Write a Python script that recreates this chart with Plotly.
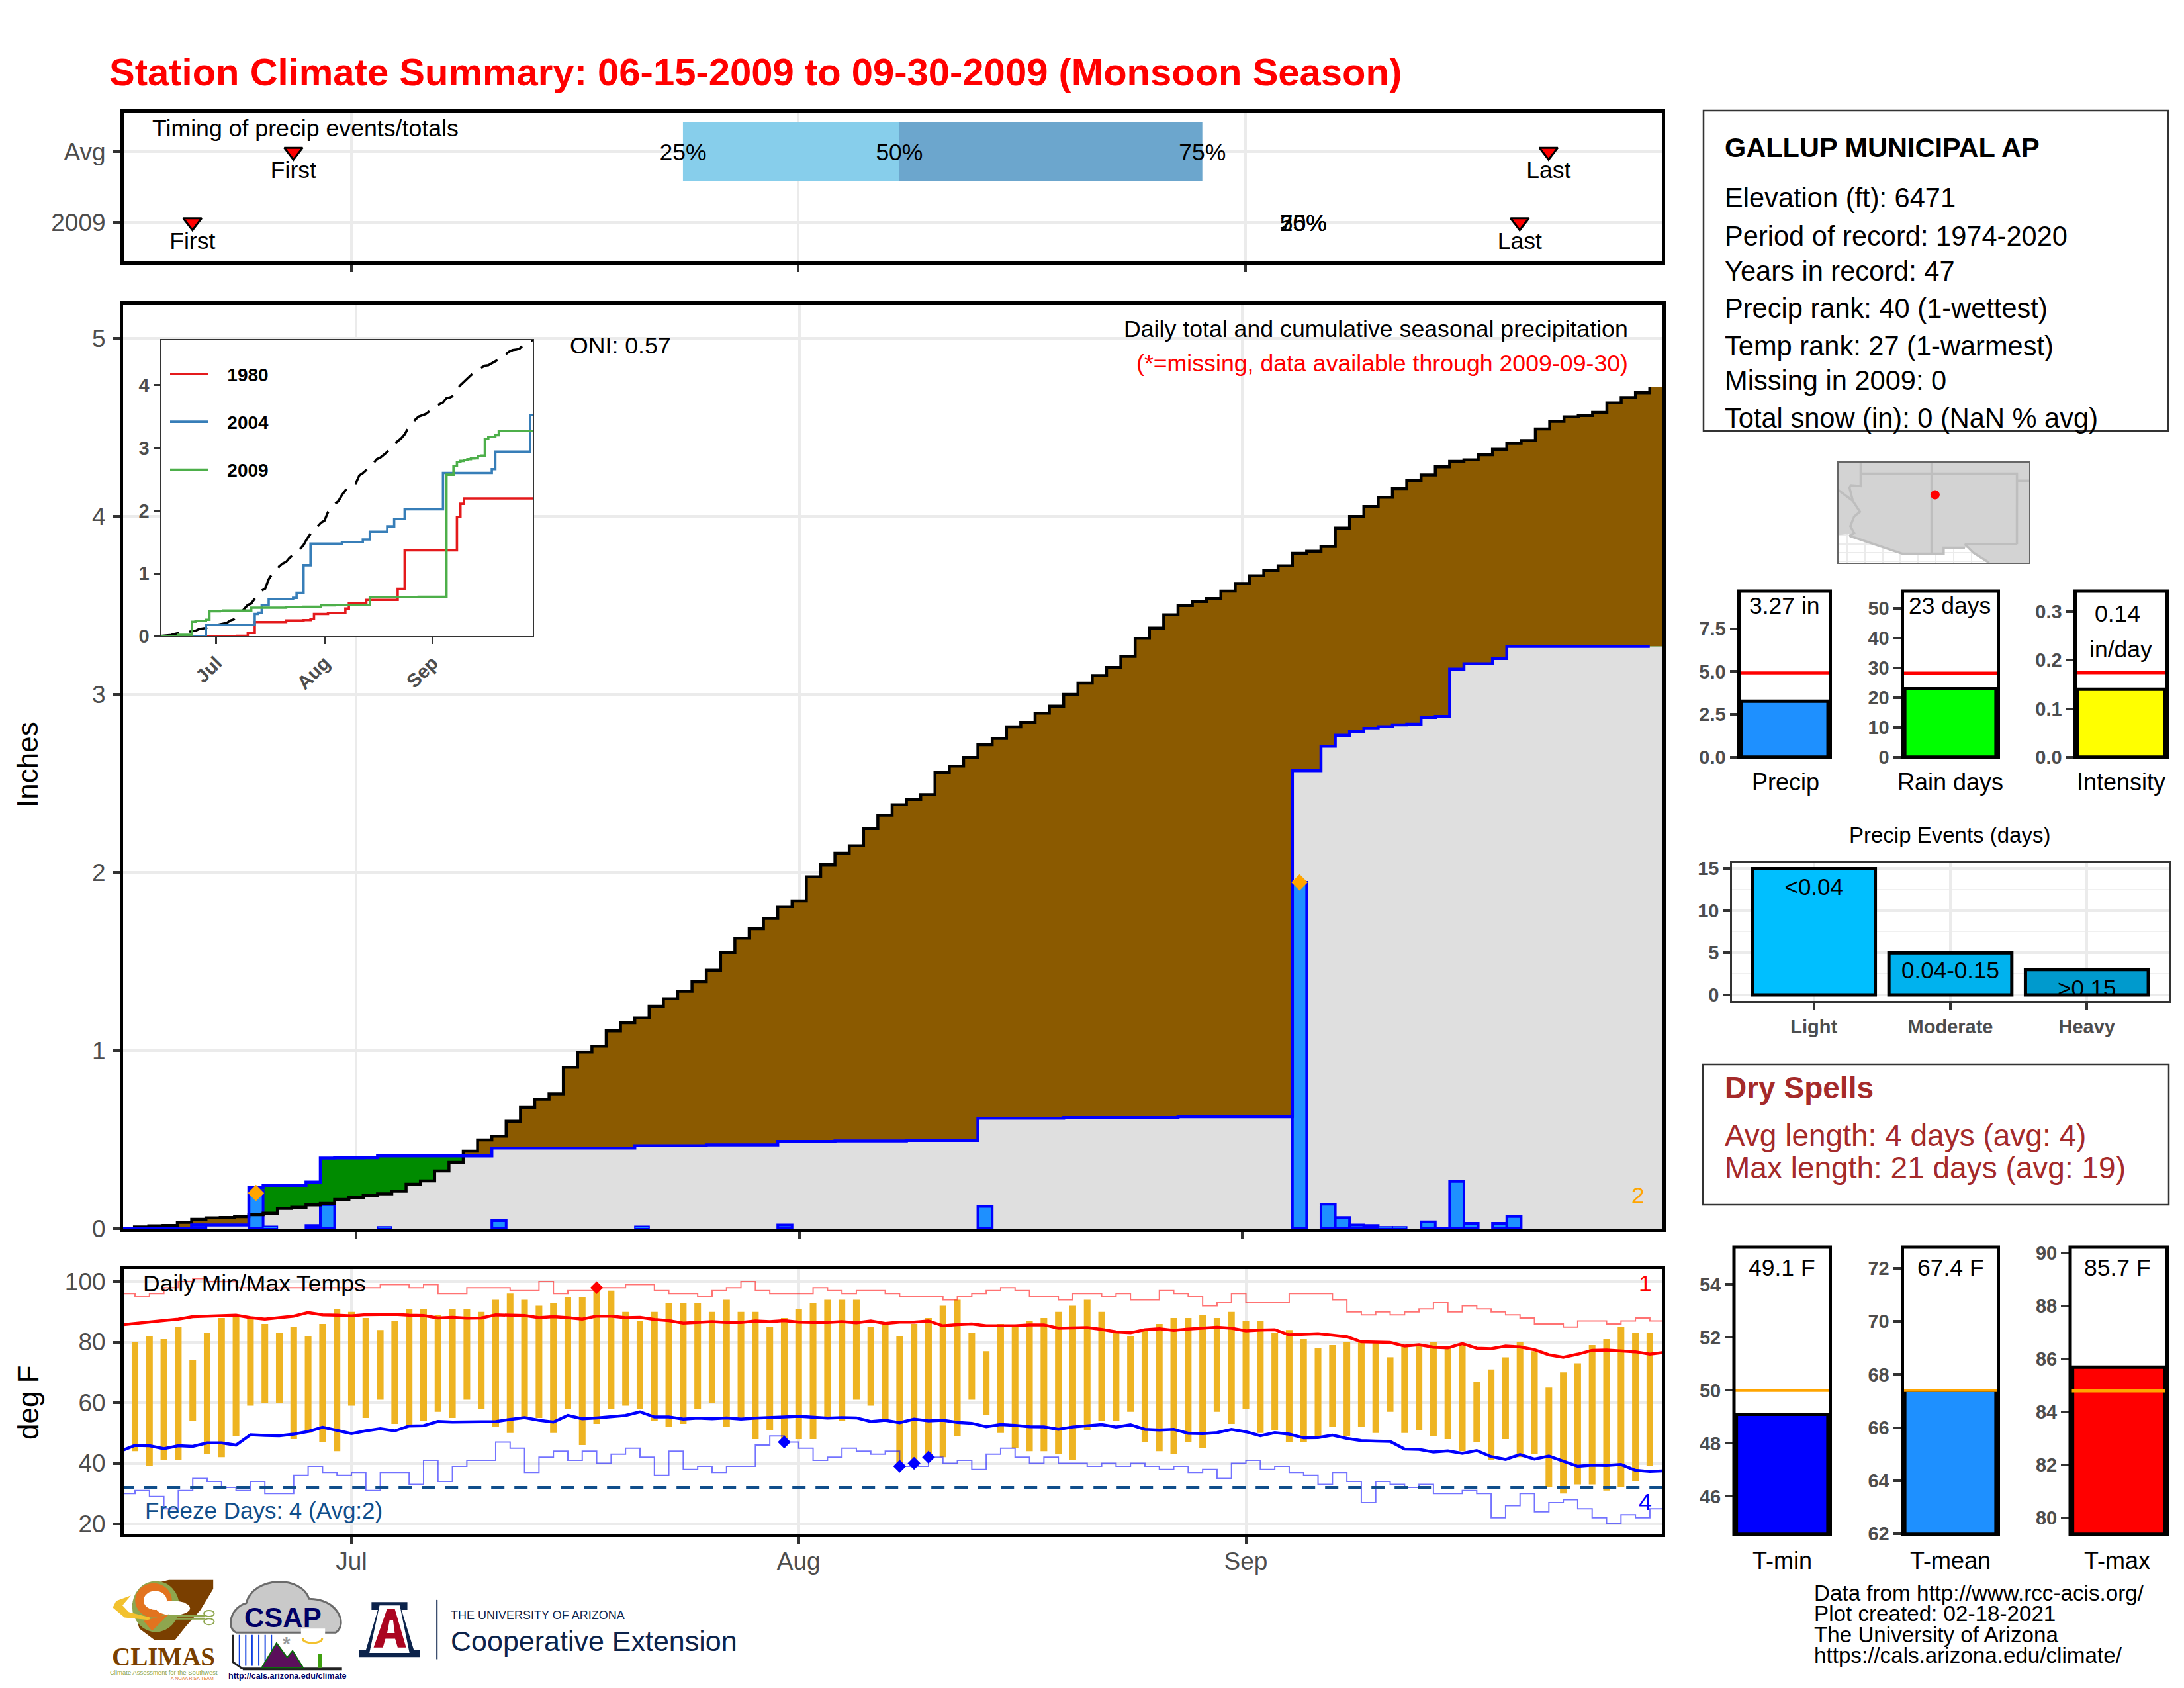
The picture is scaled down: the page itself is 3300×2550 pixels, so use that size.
import numpy as np
import plotly.graph_objects as go

# ---------- data ----------
days = list(range(108))
month_ticks = [16, 47, 78]
month_labels = ["Jul", "Aug", "Sep"]

avg_cum = [0.003,0.009,0.016,0.018,0.035,0.052,0.06,0.062,0.067,0.078,0.086,0.113,0.12,0.133,0.141,0.164,0.175,0.186,0.195,0.21,
           0.249,0.268,0.323,0.372,0.435,0.498,0.52,0.603,0.68,0.727,0.757,0.906,0.992,1.025,1.111,1.156,1.183,1.249,1.291,1.333,
           1.387,1.451,1.551,1.631,1.684,1.742,1.808,1.84,1.975,2.044,2.108,2.15,2.246,2.322,2.38,2.41,2.437,2.562,2.598,2.646,
           2.718,2.753,2.818,2.843,2.895,2.934,3.0,3.063,3.106,3.152,3.214,3.315,3.373,3.447,3.499,3.522,3.538,3.58,3.623,3.667,
           3.696,3.722,3.792,3.804,3.831,3.934,3.999,4.055,4.107,4.156,4.202,4.233,4.278,4.309,4.317,4.346,4.377,4.411,4.426,4.491,
           4.534,4.559,4.566,4.584,4.637,4.668,4.695,4.727]
precip_days = [5,9,10,13,14,15,17,18,26,36,41,46,50,55,60,66,74,82,84,85,86,87,88,89,90,91,92,93,94,96,97]
precip_vals = [.02,.21,.013,.018,.135,.001,.001,.01,.045,.013,.004,.02,.003,.002,.125,.004,.004,1.944,.137,.062,.02,.018,.01,.01,.004,.038,.006,.265,.03,.03,.068]
record_precip_days = [9, 82]
record_precip_vals = [0.2, 1.944]

y1980_days = [0,22,25,27,36,41,43,44,48,53,54,59,68,70,85,86,87,107]
y1980_vals = [0,.005,.05,.224,.25,.255,.276,.353,.37,.44,.526,.578,.754,1.366,1.897,2.108,2.194,2.194]
y2004_days = [0,13,27,28,29,31,38,39,41,43,52,58,60,65,67,70,81,95,96,106,107]
y2004_vals = [0,.181,.353,.375,.49,.59,.61,.69,1.13,1.474,1.5,1.54,1.664,1.75,1.87,2.02,2.6,2.66,2.94,3.52,3.52]

temp_days = list(range(1, 107))
temp_max = [80,82,81,85,74,83,88,89,88,86, 83,85,82,86,91,90,88,84,87,91, 91,89,91,91,90,94,96,94,92,93,
            95,95,98,97,90,87,90,93,93,93, 90,94,90,90,85,88,91,93,94,94, 94,85,86,82,86,88,92,94,83,77,
            86,85,87,88,90,92,94,90,83,82, 84,86,88,88,89,88,90,87,87,83, 84,81,78,79,80,80,80,75,79,79,
            80,78,79,67,71,75,80,77,65,70, 73,79,81,85,83,83]
temp_min = [44,39,41,41,54,43,42,49,59,60, 60,48,50,47,44,59,55,61,53,52, 54,57,55,61,58,52,50,55,55,50,
            58,46,53,58,59,58,54,52,53,58, 60,52,55,48,51,47,48,48,55,54, 61,59,54,39,39,42,42,49,61,56,
            50,45,44,44,43,41,51,54,54,57, 47,44,43,47,45,57,53,58,50,51, 47,47,49,52,49,52,50,57,50,51,
            49,48,44,47,41,48,42,43,32,30, 33,33,31,32,34,39]
avg_high = [85.7,86.2,86.5,87.1,87.6,88.4,88.5,88.7,88.9,88.1,87.6,88.1,88.6,89.8,89.0,88.9,88.7,89.1,89.2,89.2,
            88.9,88.8,88.0,88.2,87.9,88.0,89.0,88.9,88.8,88.1,88.4,88.1,87.6,88.6,88.6,88.1,88.2,87.5,87.1,86.3,
            86.5,86.8,86.5,86.5,87.0,86.8,87.1,86.6,86.5,86.5,86.8,86.4,87.0,86.2,86.6,86.6,87.0,85.4,85.8,86.0,
            85.4,85.3,85.4,85.7,85.7,84.6,84.6,84.8,84.2,83.4,83.1,84.1,84.4,83.9,84.3,84.5,84.9,84.6,83.7,84.0,
            84.1,82.4,82.6,82.8,82.3,81.8,80.1,80.0,79.9,78.7,79.1,78.3,78.1,79.5,78.0,77.8,78.7,78.4,77.5,75.8,
            75.0,76.0,77.3,77.4,77.2,76.8,76.0,76.6]
avg_low = [44.0,45.9,45.8,44.8,45.8,45.6,46.7,46.7,46.0,49.4,49.2,49.1,49.6,50.5,51.9,50.9,49.8,50.7,51.4,50.7,
           52.3,52.4,53.8,53.6,53.7,53.8,53.8,54.5,55.1,54.2,53.6,55.8,54.7,55.0,55.5,55.8,57.0,55.3,55.3,54.6,
           54.9,54.7,55.0,54.6,54.9,55.2,55.3,55.5,55.1,54.9,55.1,55.0,53.8,54.2,53.4,54.6,54.0,54.2,53.5,53.2,
           52.1,52.8,52.5,52.1,52.0,51.2,52.0,52.3,52.8,52.0,52.7,51.2,51.0,51.2,49.9,49.8,50.1,51.2,50.4,49.1,
           50.1,49.6,48.4,48.5,49.3,48.2,47.5,47.3,47.2,44.7,44.6,43.7,44.1,43.3,44.2,42.2,41.3,42.9,41.4,42.4,
           40.7,39.0,39.4,39.3,39.6,37.7,37.3,37.5]
rec_high = [96,95,96,98,100,101,100,100,98,98,98,98,98,98,98,98,98,98,99,99,98,99,96,96,98,98,98,97,97,100,
            96,97,97,98,98,99,99,97,96,96,95,97,98,100,97,96,96,96,98,97,96,97,97,96,95,95,95,94,95,96,
            97,98,97,95,95,94,96,96,95,96,94,94,97,96,95,92,93,96,93,93,93,96,96,96,94,90,89,90,89,90,
            91,93,90,92,91,90,89,88,86,86,85,87,87,86,87,88,87,87]
rec_low = [30,31,29,25,31,35,34,32,31,34,30,30,36,39,37,36,37,31,37,37,33,41,34,39,41,41,47,45,37,42,
           44,41,44,40,43,45,42,36,44,38,39,37,39,39,46,49,47,45,41,42,45,44,43,44,39,39,42,40,41,38,
           43,45,42,40,42,40,40,39,40,39,40,39,38,39,37,38,35,40,41,38,39,37,36,33,37,34,27,34,33,32,
           33,30,30,31,30,22,26,30,24,27,28,25,22,20,23,22,25,25]
high_record_days, high_record_vals = [33], [98]
low_record_days, low_record_vals = [46, 54, 55, 56], [47, 39, 40, 42]
freeze_level = [32, 32]

timing_rows = [1, 0]
timing_labels = ["Avg", "2009"]
first_days, first_rows = [12, 5], [1, 0]
last_days, last_rows = [99, 97], [1, 0]
pct_avg = [39, 54, 75]
pct_2009 = [82, 82, 82]
pct_names = ["25%", "50%", "75%"]

summary_names = ["Precip", "Rain days", "Intensity"]
summary_vals = [3.27, 23, 0.14]
summary_avg = [4.92, 28.3, 0.174]
events_names = ["Light", "Moderate", "Heavy"]
events_vals = [15, 5, 3]
events_text = ["<0.04", "0.04-0.15", ">0.15"]
temp_names = ["T-min", "T-mean", "T-max"]
temp_vals = [49.1, 67.4, 85.7]
temp_avgs = [50.0, 67.4, 84.8]

info_lines = ["Elevation (ft): 6471", "Period of record: 1974-2020", "Years in record: 47",
              "Precip rank: 40 (1-wettest)", "Temp rank: 27 (1-warmest)", "Missing in 2009: 0",
              "Total snow (in): 0 (NaN % avg)"]
footer_lines = ["Data from http://www.rcc-acis.org/", "Plot created: 02-18-2021",
                "The University of Arizona", "https://cals.arizona.edu/climate/"]

# inset map outlines (lon, lat)
land_lon = [-115.6,-114.8,-114.72,-111.1,-108.2,-108.2,-106.53,-106.1,-105.0,-102.18,-102.18,-115.6,-115.6]
land_lat = [32.66,32.72,32.5,31.33,31.33,31.75,31.75,31.4,30.7,30.7,37.8,37.8,32.66]
state_lines = [
    ([-114.04,-114.04,-114.72,-114.83,-114.6,-114.09,-114.5,-114.77,-114.5,-114.83], [37.8,36.12,36.18,36.02,35.08,34.3,33.97,33.28,32.8,32.6]),
    ([-115.6,-114.6], [35.83,35.08]),
    ([-114.04,-103.04,-103.04], [37.0,37.0,32.0]),
    ([-103.04,-102.18], [36.5,36.5]),
    ([-109.05,-109.05], [37.8,31.33]),
    ([-103.04,-106.7,-106.1,-105.0], [32.0,32.0,31.4,30.7]),
    ([-114.83,-111.1,-108.2,-108.2,-106.7], [32.6,31.33,31.33,31.75,31.75]),
]
station_lon, station_lat = [-108.8], [35.5]

# ---------- helpers ----------
W, H = 3300, 2550
FONT = "Liberation Sans"
GREY = "#4D4D4D"
GRID = "#EBEBEB"
px = lambda x: x / W
py = lambda y: 1 - y / H
dom_x = lambda a, b: [px(a), px(b)]
dom_y = lambda top, bottom: [py(bottom), py(top)]

fig = go.Figure()
ann, shp = [], []
layout = {}

def txt(x, y, s, size=35.5, color="black", anchor="left", bold=False, family=FONT, angle=0):
    ann.append(dict(x=px(x), y=py(y), xref="paper", yref="paper", text=s, showarrow=False, xanchor=anchor,
                    yanchor="middle", textangle=angle, borderpad=0,
                    font=dict(size=size, color=color, family=family, weight=700 if bold else 400)))

def box(x0, y0, x1, y1, color="black", width=5):
    shp.append(dict(type="rect", xref="paper", yref="paper", x0=px(x0), x1=px(x1), y0=py(y1), y1=py(y0),
                    line=dict(color=color, width=width), fillcolor="rgba(0,0,0,0)", layer="above"))

def axes(n, xd, yd, xr, yr, **kw):
    xs = "" if n == 1 else str(n)
    xa = dict(domain=xd, range=xr, anchor="y" + xs, showgrid=False, zeroline=False, showticklabels=False, ticks="")
    ya = dict(domain=yd, range=yr, anchor="x" + xs, showgrid=False, zeroline=False, showticklabels=False, ticks="")
    xa.update(kw.get("x", {}))
    ya.update(kw.get("y", {}))
    layout["xaxis" + xs] = xa
    layout["yaxis" + xs] = ya
    return "x" + xs, "y" + xs

reg = dict(size=37, color=GREY, family=FONT)
bold = dict(size=29, color=GREY, family=FONT, weight=700)
framed = dict(showline=True, mirror=True, linecolor="black", linewidth=5)
tk = dict(ticks="outside", ticklen=11, tickwidth=3.5, tickcolor="#333333")
grid = dict(showgrid=True, gridcolor=GRID, gridwidth=4)
xmonth = dict(tickmode="array", tickvals=month_ticks, ticktext=month_labels)

# ---------- timing panel ----------
xa, ya = axes(1, dom_x(187, 2511), dom_y(169.5, 395), [0.24, 106.85], [-0.556, 1.56],
              x={**framed, **tk, **grid, **xmonth},
              y={**framed, **tk, **grid, "tickmode": "array", "tickvals": timing_rows, "ticktext": timing_labels,
                 "showticklabels": True, "tickfont": reg, "ticklabelstandoff": 4})
fig.add_bar(x=[pct_avg[1] - pct_avg[0]], base=[pct_avg[0]], y=[timing_rows[0]], orientation="h", width=0.83,
            marker=dict(color="#87CEEB", line_width=0), xaxis=xa, yaxis=ya, showlegend=False)
fig.add_bar(x=[pct_avg[2] - pct_avg[1]], base=[pct_avg[1]], y=[timing_rows[0]], orientation="h", width=0.83,
            marker=dict(color="#6CA6CD", line_width=0), xaxis=xa, yaxis=ya, showlegend=False)
for d, r in ((first_days, first_rows), (last_days, last_rows)):
    fig.add_scatter(x=d, y=r, mode="markers", marker=dict(symbol="triangle-down", size=24, color="red",
                    line=dict(color="black", width=3)), xaxis=xa, yaxis=ya, showlegend=False)
tf = dict(size=35.5, color="black", family=FONT)
fig.add_scatter(x=first_days + last_days, y=[0.71, -0.29, 0.71, -0.29], mode="text",
                text=["First", "First", "Last", "Last"], textposition="middle center", textfont=tf,
                xaxis=xa, yaxis=ya, showlegend=False)
fig.add_scatter(x=pct_avg + pct_2009, y=[0.96, 0.96, 0.96, -0.04, -0.04, -0.04], mode="text", text=pct_names + pct_names,
                textposition="middle center", textfont=tf, xaxis=xa, yaxis=ya, showlegend=False)

# ---------- main precipitation panel ----------
mx = [-0.296, 107.39]
my = [0, 5.19]
xd, yd = dom_x(186, 2512), dom_y(460, 1856)
xa, ya = axes(2, xd, yd, mx, my,
              x={**framed, **tk, **grid, **xmonth},
              y={**framed, **tk, **grid, "tickmode": "array", "tickvals": [0, 1, 2, 3, 4, 5], "showticklabels": True,
                 "tickfont": reg, "ticklabelstandoff": 3})
xb, yb = axes(3, xd, yd, mx, my, x=dict(overlaying="x2", visible=False), y=dict(overlaying="y2", visible=False))
xc, yc = axes(4, xd, yd, mx, my, x=dict(overlaying="x2", visible=False), y=dict(overlaying="y2", visible=False))

daily = np.zeros(108)
daily[precip_days] = precip_vals
obs_cum = np.cumsum(daily)
avg_arr = np.array(avg_cum)
edges = np.array(days) - 0.5
edges_full = np.append(edges, 107.5)
ext = lambda a: np.append(a, a[-1])
shp.append(dict(type="rect", xref="x2", yref="y2", x0=-0.3, x1=29.3, y0=2.974, y1=5.067, layer="below",
                fillcolor="white", line_width=0))
for arr, col in ((avg_arr, "#8B5A00"), (obs_cum, "#008B00"), (np.minimum(avg_arr, obs_cum), "#DFDFDF")):
    fig.add_scatter(x=edges_full, y=ext(arr), mode="lines", line=dict(shape="hv", width=0), fill="tozeroy",
                    fillcolor=col, xaxis=xa, yaxis=ya, showlegend=False, hoverinfo="skip")
shown = [(d, v) for d, v in zip(precip_days, precip_vals) if v >= 0.005]
fig.add_bar(x=[d for d, _ in shown], y=[v for _, v in shown], width=1,
            marker=dict(color="#1E90FF", line=dict(color="#0000FF", width=[4 if v >= 0.015 else 2 for _, v in shown])),
            xaxis=xb, yaxis=yb, showlegend=False)
fig.add_scatter(x=edges, y=avg_arr, mode="lines", line=dict(shape="hv", width=4.5, color="black"),
                xaxis=xc, yaxis=yc, showlegend=False)
fig.add_scatter(x=edges, y=obs_cum, mode="lines", line=dict(shape="hv", width=4.5, color="#0000FF"),
                xaxis=xc, yaxis=yc, showlegend=False)
fig.add_scatter(x=record_precip_days, y=record_precip_vals, mode="markers",
                marker=dict(symbol="diamond", size=19, color="#FFA500"), xaxis=xc, yaxis=yc, showlegend=False)

# ---------- inset ----------
xa, ya = axes(5, dom_x(243.5, 805), dom_y(513.5, 961), [0.15, 106.75], [0, 4.72],
              x=dict(showline=True, mirror=True, linecolor="#333333", linewidth=2, ticks="outside", ticklen=10,
                     tickwidth=3, tickcolor="#333333", showticklabels=True, tickangle=-45, tickfont=bold, **xmonth),
              y=dict(showline=True, mirror=True, linecolor="#333333", linewidth=2, ticks="outside", ticklen=10,
                     tickwidth=3, tickcolor="#333333", showticklabels=True, tickvals=[0, 1, 2, 3, 4], tickfont=bold))
fig.add_scatter(x=days, y=avg_arr, mode="lines", line=dict(width=3.6, color="black", dash="28px,16px"),
                xaxis=xa, yaxis=ya, showlegend=False)
for name, d, v, col in (("1980", y1980_days, y1980_vals, "#E41A1C"), ("2004", y2004_days, y2004_vals, "#377EB8"),
                        ("2009", days, obs_cum, "#4DAF4A")):
    fig.add_scatter(x=d, y=v, mode="lines", name="\u00a0\u00a0\u00a0" + name, legendgroup=name,
                    line=dict(shape="hv", width=3.6, color=col), xaxis=xa, yaxis=ya)

# ---------- temperature panel ----------
xa, ya = axes(6, dom_x(187, 2511), dom_y(1917.3, 2316.7), [0.22, 106.83], [16.79, 104.09],
              x={**framed, **tk, **grid, **xmonth, "showticklabels": True, "tickfont": reg, "ticklabelstandoff": -6},
              y={**framed, **tk, **grid, "tickmode": "array", "tickvals": [20, 40, 60, 80, 100], "showticklabels": True,
                 "tickfont": reg, "ticklabelstandoff": 4})
fig.add_bar(x=temp_days, y=np.array(temp_max) - np.array(temp_min), base=temp_min, width=0.46,
            marker=dict(color="#EEB422", line_width=0), xaxis=xa, yaxis=ya, showlegend=False)
fig.add_scatter(x=days, y=rec_high, mode="lines", line=dict(shape="hv", width=2, color="rgba(255,0,0,0.55)"),
                xaxis=xa, yaxis=ya, showlegend=False)
fig.add_scatter(x=days, y=rec_low, mode="lines", line=dict(shape="hv", width=2, color="rgba(0,0,255,0.55)"),
                xaxis=xa, yaxis=ya, showlegend=False)
fig.add_scatter(x=[0, 107], y=freeze_level, mode="lines", line=dict(width=4, color="#104E8B", dash="20px,15px"),
                xaxis=xa, yaxis=ya, showlegend=False)
fig.add_scatter(x=days, y=avg_high, mode="lines", line=dict(width=4.5, color="#FF0000"), xaxis=xa, yaxis=ya, showlegend=False)
fig.add_scatter(x=days, y=avg_low, mode="lines", line=dict(width=4.5, color="#0000FF"), xaxis=xa, yaxis=ya, showlegend=False)
fig.add_scatter(x=high_record_days, y=high_record_vals, mode="markers", marker=dict(symbol="diamond", size=15, color="#FF0000"),
                xaxis=xa, yaxis=ya, showlegend=False)
fig.add_scatter(x=low_record_days, y=low_record_vals, mode="markers", marker=dict(symbol="diamond", size=15, color="#0000FF"),
                xaxis=xa, yaxis=ya, showlegend=False)

# ---------- summary bars ----------
def gauge(n, x0, x1, top, bottom, yr, ticks, val, avg, fill, linecol, tickfmt=None):
    yopts = {**tk, "ticklen": 13, "tickmode": "array", "tickvals": ticks, "showticklabels": True, "tickfont": bold}
    if tickfmt:
        yopts["tickformat"] = tickfmt
    xa, ya = axes(n, dom_x(x0, x1), dom_y(top, bottom), [-0.5, 0.5], yr, y=yopts)
    fig.add_bar(x=[0], y=[val], width=0.95,
                marker=dict(color=fill, line=dict(color="black", width=5)), xaxis=xa, yaxis=ya, showlegend=False)
    fig.add_scatter(x=[-0.5, 0.5], y=[avg, avg], mode="lines", line=dict(color=linecol, width=4.5),
                    xaxis=xa, yaxis=ya, showlegend=False)
    box(x0, top, x1, bottom)

def gauge_t(n, x0, x1, yr, ticks, val, avg, fill):
    yopts = {**tk, "ticklen": 13, "tickmode": "array", "tickvals": ticks, "showticklabels": True, "tickfont": bold}
    xa, ya = axes(n, dom_x(x0, x1), dom_y(1884, 2318), [-0.5, 0.5], yr, y=yopts)
    fig.add_bar(x=[0], y=[val - yr[0]], base=[yr[0]], width=0.95,
                marker=dict(color=fill, line=dict(color="black", width=5)), xaxis=xa, yaxis=ya, showlegend=False)
    fig.add_scatter(x=[-0.5, 0.5], y=[avg, avg], mode="lines", line=dict(color="#FFA500", width=4.5),
                    xaxis=xa, yaxis=ya, showlegend=False)
    box(x0, 1884, x1, 2318)

gauge(7, 2627.5, 2765.5, 893, 1144, [0, 9.69], [0, 2.5, 5, 7.5], summary_vals[0], summary_avg[0], "#1E90FF", "#FF0000", ".1f")
gauge(8, 2874.5, 3019.5, 893, 1144, [0, 55.8], [0, 10, 20, 30, 40, 50], summary_vals[1], summary_avg[1], "#00FF00", "#FF0000")
gauge(9, 3135.5, 3274.5, 893, 1144, [0, 0.342], [0, 0.1, 0.2, 0.3], summary_vals[2], summary_avg[2], "#FFFF00", "#FF0000", ".1f")
gauge_t(12, 2620, 2765.5, [44.56, 55.41], [46, 48, 50, 52, 54], temp_vals[0], temp_avgs[0], "#0000FF")
gauge_t(13, 2874.5, 3019.5, [61.97, 72.8], [62, 64, 66, 68, 70, 72], temp_vals[1], temp_avgs[1], "#1E90FF")
gauge_t(14, 3128, 3274.5, [79.38, 90.23], [80, 82, 84, 86, 88, 90], temp_vals[2], temp_avgs[2], "#FF0000")

# ---------- precip events ----------
ef = dict(showline=True, mirror=True, linecolor="#333333", linewidth=2.5)
xa, ya = axes(10, dom_x(2617, 3277), dom_y(1303, 1512), [-0.6, 2.6], [-0.71, 15.68],
              x={**ef, **tk, **grid, "tickmode": "array", "tickvals": [0, 1, 2], "ticktext": events_names,
                 "showticklabels": True, "tickfont": bold},
              y={**ef, **tk, **grid, "tickmode": "array", "tickvals": [0, 5, 10, 15], "showticklabels": True, "tickfont": bold,
                 "minor": dict(tickmode="array", tickvals=[2.5, 7.5, 12.5], showgrid=True, gridcolor="#F0F0F0", gridwidth=2, ticks="")})
fig.add_bar(x=[0, 1, 2], y=events_vals, width=0.9,
            marker=dict(color=["#00BFFF", "#00B2EE", "#009ACD"], line=dict(color="black", width=5)),
            xaxis=xa, yaxis=ya, showlegend=False)
fig.add_scatter(x=[0, 1, 2], y=[12.5, 2.65, 0.5], mode="text", text=events_text, textposition="middle center",
                textfont=dict(size=35, color="black", family=FONT), xaxis=xa, yaxis=ya, showlegend=False)

# ---------- locator map ----------
xa, ya = axes(11, dom_x(2778, 3066), dom_y(698.5, 850), [-115.6, -102.18], [30.7, 37.8],
              x=dict(showline=True, mirror=True, linecolor="#666666", linewidth=2, showgrid=True, gridcolor=GRID, gridwidth=2, dtick=1.25, tick0=-115),
              y=dict(showline=True, mirror=True, linecolor="#666666", linewidth=2, showgrid=True, gridcolor=GRID, gridwidth=2, dtick=0.6, tick0=30.8))
fig.add_scatter(x=land_lon, y=land_lat, mode="lines", fill="toself", fillcolor="#D3D3D3", line=dict(width=0),
                xaxis=xa, yaxis=ya, showlegend=False)
for lo, la in state_lines:
    fig.add_scatter(x=lo, y=la, mode="lines", line=dict(color="#BEBEBE", width=3.5), xaxis=xa, yaxis=ya, showlegend=False)
fig.add_scatter(x=station_lon, y=station_lat, mode="markers", marker=dict(color="#FF0000", size=14), xaxis=xa, yaxis=ya, showlegend=False)

# ---------- texts ----------
txt(164, 109, "Station Climate Summary: 06-15-2009 to 09-30-2009 (Monsoon Season)", 58, "#FF0000", bold=True)
txt(229, 194, "Timing of precip events/totals", 35.7)
txt(860, 522, "ONI: 0.57", 35.7)
txt(2461, 497, "Daily total and cumulative seasonal precipitation", 35.7, anchor="right")
txt(2461, 549, "(*=missing, data available through 2009-09-30)", 35.7, color="#FF0000", anchor="right")
txt(2475, 1806, "2", color="#FFA500", anchor="center")
txt(42, 1155, "Inches", 44, anchor="center", angle=-90)
txt(42, 2119, "deg F", 44, anchor="center", angle=-90)
txt(215, 1939, "Daily Min/Max Temps")
txt(218, 2281, "Freeze Days: 4 (Avg:2)", 35, "#104E8B")
txt(2486, 1939, "1", color="#FF0000", anchor="center")
txt(2486, 2269, "4", color="#0000FF", anchor="center")

box(2574, 167, 3276, 651, "#333333", 2.5)
txt(2605, 223, "GALLUP MUNICIPAL AP", 41.5, bold=True)
for y, s in zip([299, 356, 410, 465, 522, 575, 631], info_lines):
    txt(2605, y, s, 41.6)

txt(2696.5, 915, "3.27 in", anchor="center")
txt(2946, 915, "23 days", anchor="center")
txt(3199, 927, "0.14", anchor="center")
txt(3204, 981, "in/day", anchor="center")
for x, s in zip([2697.5, 2947, 3204.5], summary_names):
    txt(x, 1181, s, 36, anchor="center")
txt(2946, 1261, "Precip Events (days)", 33, anchor="center")

box(2573, 1608, 3277, 1820, "#333333", 2.5)
txt(2605, 1643, "Dry Spells", 46, "#A52A2A", bold=True)
txt(2605, 1715, "Avg length: 4 days (avg: 4)", 46, "#A52A2A")
txt(2605, 1764, "Max length: 21 days (avg: 19)", 46, "#A52A2A")

for x, s in zip([2692.7, 2947, 3199], ["49.1 F", "67.4 F", "85.7 F"]):
    txt(x, 1915, s, 35.5, anchor="center")
for x, s in zip([2692.7, 2947, 3199], temp_names):
    txt(x, 2357, s, 36, anchor="center")
for y, s in zip([2406, 2437, 2469, 2500], footer_lines):
    txt(2740, y, s, 33.2)

# ---------- logos (drawn approximately) ----------
zx = lambda v: (150 + v / 1.568) / W
zy = lambda v: 1 - (2360 + v / 2.99) / H

def poly(points, fill, line=None, lw=0):
    d = "M " + " L ".join(f"{zx(a):.5f},{zy(b):.5f}" for a, b in points) + " Z"
    shp.append(dict(type="path", xref="paper", yref="paper", path=d, fillcolor=fill,
                    line=dict(color=line or fill, width=lw), layer="above"))

def oval(a0, b0, a1, b1, fill, line=None, lw=0):
    shp.append(dict(type="circle", xref="paper", yref="paper", x0=zx(a0), x1=zx(a1), y0=zy(b1), y1=zy(b0),
                    fillcolor=fill, line=dict(color=line or fill, width=lw), layer="above"))

def seg(a0, b0, a1, b1, col, lw=2):
    shp.append(dict(type="line", xref="paper", yref="paper", x0=zx(a0), x1=zx(a1), y0=zy(b0), y1=zy(b1),
                    line=dict(color=col, width=lw), layer="above"))

# CLIMAS
poly([(165,80),(270,80),(270,120),(240,215),(205,290),(180,350),(130,350),(95,300),(78,190),(100,110)], "#7A3F00")
oval(78, 85, 190, 315, "#8EA64E")
oval(85, 95, 172, 250, "#E2731F")
oval(105, 130, 160, 215, "white")
poly([(75,150),(40,175),(32,205),(60,250),(120,262),(120,250),(70,225),(55,195)], "#F2C12E")
oval(135, 175, 215, 240, "white")
seg(150, 243, 250, 243, "#8EA64E", 3)
seg(150, 255, 250, 255, "#8EA64E", 3)
oval(248, 218, 272, 245, "rgba(0,0,0,0)", "#8EA64E", 2)
oval(248, 255, 272, 282, "rgba(0,0,0,0)", "#8EA64E", 2)
poly([(105,265),(165,235),(125,310)], "#E2731F")
txt(247, 2502, "CLIMAS", 39, "#7A3F00", anchor="center", family="Liberation Serif", bold=True)
txt(247, 2526, "Climate Assessment for the Southwest", 9.5, "#8EA64E", anchor="center")
txt(290, 2535, "A NOAA RISA TEAM", 7, "#E2731F", anchor="center")

# CSAP
shp.append(dict(type="path", xref="paper", yref="paper", layer="above", fillcolor="#C9C9C9", line=dict(color="#6B6B6B", width=3),
                path=f"M {zx(325):.5f},{zy(318):.5f} C {zx(300):.5f},{zy(300):.5f} {zx(310):.5f},{zy(205):.5f} {zx(348):.5f},{zy(185):.5f} "
                     f"C {zx(365):.5f},{zy(60):.5f} {zx(480):.5f},{zy(60):.5f} {zx(497):.5f},{zy(165):.5f} "
                     f"C {zx(565):.5f},{zy(165):.5f} {zx(590):.5f},{zy(280):.5f} {zx(560):.5f},{zy(318):.5f} Z"))
txt(427, 2443, "CSAP", 42, "#000066", anchor="center", bold=True)
for a in (332, 347, 362, 378, 393, 408):
    seg(a, 328, a, 468, "#1040E0", 2)
seg(316, 328, 316, 450, "#222222", 3)
seg(316, 450, 340, 482, "#222222", 3)
seg(340, 482, 575, 482, "#222222", 4)
poly([(385,476),(420,365),(445,430),(458,400),(483,476)], "#5B0F5B", "#0B6B0B", 2)
txt(433, 2482, "*", 30, "#999999", anchor="center", bold=True)
oval(482, 325, 528, 365, "rgba(0,0,0,0)", "#F2C12E", 3)
poly([(478,300),(535,300),(535,343),(478,343)], "white")
seg(523, 415, 523, 478, "#3FA010", 6)
txt(435, 2532, "http://cals.arizona.edu/climate", 12.5, "#000066", anchor="center", bold=True)

# University of Arizona
poly([(645,180),(730,180),(730,215),(716,215),(745,395),(760,395),(760,428),(615,428),(615,395),(632,395),(660,215),(645,215)], "#0C234B")
poly([(664,195),(712,195),(735,410),(640,410)], "white")
poly([(682,210),(700,210),(727,385),(707,385),(701,345),(678,345),(672,385),(650,385)], "#AB0520")
poly([(688,260),(696,260),(700,320),(682,320)], "white")
seg(800, 170, 800, 438, "#0C234B", 2)
txt(680, 2440, "THE UNIVERSITY OF ARIZONA", 18, "#0C234B")
txt(680, 2479, "Cooperative Extension", 43, "#0C234B")

fig.update_layout(
    width=W, height=H, margin=dict(l=0, r=0, t=0, b=0, autoexpand=False), paper_bgcolor="white", plot_bgcolor="white",
    barmode="overlay", annotations=ann, shapes=shp, font=dict(family=FONT),
    legend=dict(x=px(252), y=py(540), xanchor="left", yanchor="top", bgcolor="rgba(0,0,0,0)", itemwidth=58,
                tracegroupgap=33, font=dict(size=28, family=FONT, color="black", weight=700), traceorder="grouped"),
    **layout,
)
fig.write_html("out.html", config={"displayModeBar": False}, post_script="document.body.style.margin='0';")
